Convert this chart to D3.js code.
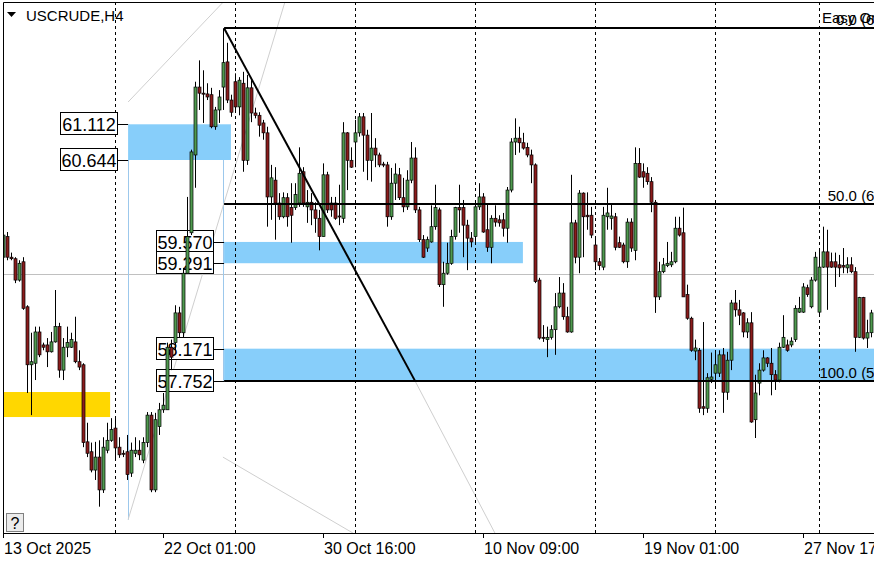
<!DOCTYPE html>
<html>
<head>
<meta charset="utf-8">
<script src="https://cdn.jsdelivr.net/npm/d3@7"></script>
<style>
  body { margin: 0; background: #fff; overflow: hidden; }
  svg { display: block; font-family: "Liberation Sans", Arial, sans-serif; }
</style>
</head>
<body>
<div id="chart"></div>
<script>
// USCRUDE H4 candles, one bar per 4 hours
const barOpen = [59.37,59.64,59.37,59.35,59.07,59.31,58.72,57.96,57.98,58.39,58.22,58.22,58.13,58.26,58.46,57.89,58.19,58.19,58.26,58.00,
  57.96,56.95,56.82,56.58,56.75,56.32,56.84,56.97,57.13,56.88,56.80,56.82,56.54,56.80,56.84,56.71,56.94,57.30,56.32,57.15,
  57.37,57.37,58.19,58.25,58.64,58.38,59.16,59.69,60.71,61.60,61.52,61.51,61.50,61.08,61.30,61.60,61.93,61.43,61.67,61.34,
  61.65,60.64,61.59,61.26,61.23,61.13,61.00,60.16,60.38,60.08,59.90,60.15,60.02,60.02,60.08,60.49,60.03,60.09,59.99,59.88,
  59.64,60.45,60.08,60.08,59.91,59.88,61.00,60.64,60.88,61.00,61.21,60.97,60.64,60.80,60.71,60.59,60.58,59.90,60.34,60.45,
  60.15,60.03,60.38,60.67,59.99,59.60,59.49,59.57,59.77,59.99,59.01,59.16,59.29,59.64,60.02,60.02,59.79,59.62,59.64,60.03,
  60.16,59.73,59.50,59.88,59.86,59.86,59.75,60.25,60.88,60.93,60.87,60.81,60.71,60.58,59.07,58.32,58.29,58.32,58.42,58.72,
  58.90,58.59,58.39,59.82,59.37,60.21,59.92,59.92,59.53,59.31,59.24,59.90,59.88,59.90,59.56,59.53,59.31,59.83,59.46,60.60,
  60.49,60.47,60.36,60.09,58.85,59.18,59.26,59.27,59.31,59.75,59.69,58.88,58.57,58.14,58.15,57.41,57.39,57.77,57.85,57.85,
  58.09,57.60,58.02,58.77,58.68,58.64,58.39,58.51,57.24,57.72,57.89,58.05,57.98,57.83,57.76,58.19,58.22,58.22,58.29,58.65,
  58.65,58.97,58.72,59.07,58.65,59.24,59.44,59.31,59.31,59.27,59.26,59.23,59.27,59.18,58.32,58.84,58.31,58.38];
const barHigh = [59.75,59.70,59.43,59.37,59.33,59.37,58.74,58.38,58.46,58.46,58.25,58.31,58.39,58.94,58.51,58.31,58.46,58.38,58.59,58.15,
  57.98,57.20,56.94,56.95,56.97,57.01,57.20,57.26,57.26,57.01,56.84,57.04,56.94,57.01,56.97,57.01,57.34,57.34,57.33,57.46,
  57.59,58.25,58.29,58.74,58.72,59.23,60.16,60.78,61.67,61.95,61.82,61.65,61.59,61.34,61.56,62.37,62.18,61.50,61.78,61.73,
  61.80,61.76,61.69,61.33,61.27,61.17,61.08,60.58,60.55,60.21,60.22,60.21,60.34,60.34,60.81,60.55,60.25,60.21,60.09,59.99,
  60.60,60.49,60.16,60.16,60.32,61.14,61.01,60.81,61.17,61.26,61.26,61.04,61.26,60.93,60.74,60.62,60.62,60.54,60.60,60.54,
  60.41,60.51,60.88,60.81,60.03,59.66,59.64,60.05,60.32,60.02,59.31,59.56,59.73,60.03,60.32,60.12,59.86,59.70,60.08,60.34,
  60.21,60.08,59.92,60.05,59.92,59.95,60.29,60.93,61.19,61.08,61.00,60.87,60.78,60.60,59.10,58.48,58.46,58.48,58.90,59.11,
  59.03,58.72,60.45,59.86,60.25,60.22,60.22,60.03,59.64,59.36,60.03,60.28,60.08,59.95,59.64,59.56,59.88,59.88,60.81,60.80,
  60.60,60.55,60.42,60.12,59.31,59.36,59.57,59.44,59.90,59.90,60.02,59.01,58.59,58.29,58.18,58.52,57.85,58.12,58.15,58.15,
  58.18,58.13,58.81,58.94,58.81,58.65,58.57,58.65,57.83,57.98,58.15,58.06,58.18,57.89,58.25,58.61,58.29,58.32,58.74,58.85,
  59.03,59.01,59.11,59.44,59.46,59.77,59.73,59.43,59.43,59.40,59.49,59.37,59.37,59.24,58.85,58.85,58.55,58.68];
const barLow = [59.20,59.33,59.33,59.03,59.05,58.68,57.59,57.30,57.76,58.06,58.15,57.93,58.12,58.25,57.79,57.76,58.06,58.18,57.98,57.89,
  56.88,56.75,56.55,56.45,56.10,56.28,56.80,56.95,56.71,56.74,56.75,56.45,56.49,56.75,56.71,56.67,56.88,56.29,56.29,57.04,
  57.33,57.37,57.89,58.15,58.32,58.32,59.16,59.66,60.28,61.30,61.13,61.43,61.06,61.04,61.13,61.30,61.39,61.21,61.30,61.23,
  60.49,60.58,61.14,61.19,60.95,60.91,59.77,59.86,59.60,59.86,59.88,59.77,59.56,59.99,60.03,60.03,59.82,59.79,59.69,59.46,
  59.64,59.95,59.90,59.86,59.79,59.82,60.25,60.54,60.55,60.95,60.49,60.38,60.36,60.55,60.55,60.55,59.77,59.86,60.12,60.12,
  59.96,59.99,60.34,59.95,59.57,59.36,59.44,59.56,59.73,58.98,58.72,59.14,59.27,59.60,59.69,59.37,59.20,59.50,59.57,59.99,
  59.69,59.44,59.29,59.77,59.77,59.64,59.56,60.22,60.71,60.74,60.78,60.68,60.34,59.03,58.29,58.26,58.06,58.29,58.09,58.70,
  58.55,58.38,58.38,59.29,59.16,59.37,59.73,59.62,59.20,59.20,59.20,59.73,59.73,59.46,59.49,59.29,59.23,59.44,59.33,60.41,
  60.28,60.32,59.96,58.64,58.81,59.16,59.24,59.24,59.29,59.64,58.85,58.55,58.13,58.02,57.33,57.30,57.33,57.72,57.67,57.80,
  57.33,57.50,57.89,58.59,58.48,58.32,58.31,57.20,57.00,57.56,57.87,57.93,57.56,57.63,57.73,58.18,58.13,58.19,58.26,58.64,
  58.64,58.85,58.70,59.05,58.61,59.23,58.68,59.23,58.98,59.11,59.16,59.16,59.16,58.13,58.31,58.29,58.18,58.32];
const barClose = [59.66,59.37,59.35,59.07,59.29,58.70,57.96,58.00,58.39,58.09,58.19,58.13,58.26,58.46,57.89,58.19,58.25,58.29,58.00,57.93,
  56.94,56.80,56.58,56.75,56.32,56.88,56.97,57.11,56.87,56.78,56.79,56.52,56.84,56.84,56.78,56.94,57.30,56.32,57.24,57.37,
  57.43,58.19,58.06,58.64,58.38,59.16,59.64,60.75,61.60,61.52,61.51,61.47,61.08,61.30,61.47,61.92,61.43,61.27,61.34,61.69,
  60.64,61.59,61.26,61.23,61.10,61.00,60.16,60.41,60.08,59.90,60.15,59.90,59.92,60.19,60.47,60.08,60.09,59.99,59.88,59.64,
  60.45,59.99,59.99,59.88,59.90,61.00,60.64,60.55,61.00,61.21,60.97,60.64,60.80,60.71,60.58,60.58,59.90,60.34,60.46,60.15,
  60.03,60.38,60.67,59.99,59.60,59.37,59.60,59.77,60.02,59.01,59.16,59.29,59.64,60.02,59.99,59.79,59.62,59.57,60.03,60.16,
  59.70,59.50,59.88,59.83,59.82,59.75,60.25,60.88,60.93,60.87,60.80,60.71,60.58,59.05,58.31,58.31,58.32,58.42,58.72,58.90,
  58.59,58.39,59.82,59.37,60.21,59.90,59.90,59.66,59.31,59.26,59.92,59.95,59.91,59.50,59.50,59.31,59.83,59.49,60.60,60.42,
  60.42,60.36,60.09,58.85,59.18,59.27,59.29,59.31,59.75,59.66,58.85,58.57,58.15,58.18,57.39,57.39,57.79,57.80,57.96,58.09,
  57.60,58.02,58.77,58.68,58.61,58.39,58.51,57.21,57.59,57.89,58.05,57.98,57.83,57.76,58.19,58.32,58.15,58.27,58.70,58.70,
  58.98,58.88,59.07,59.37,59.24,59.44,59.24,59.24,59.24,59.23,59.24,59.27,59.18,58.32,58.84,58.31,58.38,58.64];

// time axis (bar index -> label) and weekly separators
const tickIndex = [0, 40, 80, 120, 160, 200];
const tickLabels = ["13 Oct 2025", "22 Oct 01:00", "30 Oct 16:00", "10 Nov 09:00", "19 Nov 01:00", "27 Nov 17:00"];
const separators = [28, 58, 88, 118, 148, 178, 204];

// rectangles (price top / bottom, bar index from / to)
const zoneTop = [61.112, 59.570, 58.171];
const zoneBottom = [60.644, 59.291, 57.752];
const zoneFrom = [31.2, 55.2, 55.2];
const zoneTo = [56.9, 129.9, 240];
const goldZone = [57.603, 57.275, -2, 26.7];

// fibonacci
const fibHigh = 62.370, fibLow = 57.752;
const fibFrom = 55.2, fibTo = 102.9;
const fibLevels = [0, 50, 100];

const bidPrice = 59.146;

// thin grey helper lines [index1, price1, index2, price2]
const greyLines = [
  [31.2, 61.404, 55.0, 62.715],
  [31.2, 55.93, 70.55, 62.74],
  [54.9, 56.75, 87.4, 55.755],
  [102.9, 57.752, 122.9, 55.755]
];
// thin light blue verticals [index, price top, price bottom]
const blueVerticals = [[31.2, 60.644, 55.93], [54.9, 60.644, 57.752]];

const W = 874, H = 562;
const plotLeft = 3, plotTop = 2, plotBottom = 533;

const svg = d3.select("#chart").append("svg").attr("width", W).attr("height", H);

const n = barOpen.length;
const x = d3.scaleLinear().domain([0, n - 1]).range([3.3, 3.3 + 4 * (n - 1)]);
const y = d3.scaleLinear().domain([55.755, 62.715]).range([plotBottom, plotTop]);

svg.append("defs").append("clipPath").attr("id", "plot")
  .append("rect").attr("x", plotLeft).attr("y", plotTop).attr("width", W - plotLeft).attr("height", plotBottom - plotTop);

const g = svg.append("g").attr("clip-path", "url(#plot)");

// bid line
g.append("line")
  .attr("x1", plotLeft).attr("x2", W)
  .attr("y1", Math.round(y(bidPrice)) + 0.5).attr("y2", Math.round(y(bidPrice)) + 0.5)
  .attr("stroke", "#c0c0c0");

// blue zones
g.selectAll(".zone").data(zoneTop).enter().append("rect")
  .attr("class", "zone")
  .attr("x", (d, i) => x(zoneFrom[i]))
  .attr("y", d => y(d))
  .attr("width", (d, i) => x(zoneTo[i]) - x(zoneFrom[i]))
  .attr("height", (d, i) => y(zoneBottom[i]) - y(d))
  .attr("fill", "#87cefa");

g.append("rect")
  .attr("x", x(goldZone[2])).attr("y", y(goldZone[0]))
  .attr("width", x(goldZone[3]) - x(goldZone[2]))
  .attr("height", y(goldZone[1]) - y(goldZone[0]))
  .attr("fill", "#ffd700");

g.selectAll(".bv").data(blueVerticals).enter().append("line")
  .attr("x1", d => Math.round(x(d[0])) + 0.5).attr("x2", d => Math.round(x(d[0])) + 0.5)
  .attr("y1", d => y(d[1])).attr("y2", d => y(d[2]))
  .attr("stroke", "#9cc8ec");

g.selectAll(".grey").data(greyLines).enter().append("line")
  .attr("x1", d => x(d[0])).attr("y1", d => y(d[1]))
  .attr("x2", d => x(d[2])).attr("y2", d => y(d[3]))
  .attr("stroke", "#cfcfcf");

// weekly separators
g.selectAll(".sep").data(separators).enter().append("line")
  .attr("x1", d => Math.round(x(d)) + 0.5).attr("x2", d => Math.round(x(d)) + 0.5)
  .attr("y1", plotTop).attr("y2", plotBottom)
  .attr("stroke", "#000").attr("stroke-dasharray", "3,3");

// price label boxes at rectangle edges
const boxes = [];
zoneTop.forEach((d, i) => {
  boxes.push({ price: d, from: zoneFrom[i] });
  boxes.push({ price: zoneBottom[i], from: zoneFrom[i] });
});
const lb = g.selectAll(".lbl").data(boxes).enter().append("g");
lb.append("line")
  .attr("x1", d => x(d.from) - 11).attr("x2", d => x(d.from))
  .attr("y1", d => Math.round(y(d.price)) + 0.5).attr("y2", d => Math.round(y(d.price)) + 0.5)
  .attr("stroke", "#000");
lb.append("rect")
  .attr("x", d => Math.round(x(d.from)) - 67.5)
  .attr("y", d => Math.round(y(d.price)) - 11.5)
  .attr("width", 57).attr("height", 22)
  .attr("fill", "#fff").attr("stroke", "#000");
lb.append("text")
  .attr("x", d => Math.round(x(d.from)) - 39)
  .attr("y", d => Math.round(y(d.price)) + 6.5)
  .attr("text-anchor", "middle").attr("font-size", "18px").attr("fill", "#000")
  .text(d => d.price.toFixed(3));

// candles
const bars = g.selectAll(".bar").data(d3.range(n)).enter().append("g");
bars.append("line")
  .attr("x1", i => Math.round(x(i)) + 0.5).attr("x2", i => Math.round(x(i)) + 0.5)
  .attr("y1", i => y(barHigh[i])).attr("y2", i => y(barLow[i]))
  .attr("stroke", "#000");
bars.append("rect")
  .attr("x", i => Math.round(x(i)) - 1)
  .attr("y", i => y(Math.max(barOpen[i], barClose[i])))
  .attr("width", 3)
  .attr("height", i => Math.max(1, Math.abs(y(barOpen[i]) - y(barClose[i]))))
  .attr("fill", i => barClose[i] >= barOpen[i] ? "#4f9a4f" : "#8b1c1c")
  .attr("stroke", "#000").attr("stroke-width", 0.7);

// fibonacci
g.append("line")
  .attr("x1", x(fibFrom)).attr("y1", y(fibHigh))
  .attr("x2", x(fibTo)).attr("y2", y(fibLow))
  .attr("stroke", "#000").attr("stroke-width", 2);
const fibPrice = l => fibHigh - (fibHigh - fibLow) * l / 100;
g.selectAll(".fib").data(fibLevels).enter().append("line")
  .attr("x1", x(fibFrom)).attr("x2", W)
  .attr("y1", d => Math.round(y(fibPrice(d)))).attr("y2", d => Math.round(y(fibPrice(d))))
  .attr("stroke", "#000").attr("stroke-width", 2);
g.append("text")
  .attr("x", 822).attr("y", y(fibPrice(0)) - 5)
  .attr("font-size", "15px").attr("fill", "#000").text("Easy Order");
g.selectAll(".fibt").data(fibLevels).enter().append("text")
  .attr("x", 917).attr("y", d => y(fibPrice(d)) - 3)
  .attr("text-anchor", "end").attr("font-size", "15px").attr("fill", "#000")
  .text(d => d.toFixed(1) + " (" + fibPrice(d).toFixed(3) + ")");

// frame and time axis
svg.append("path")
  .attr("d", `M${plotLeft + 0.5},${plotBottom + 0.5} V${plotTop + 0.5} H${W}`)
  .attr("fill", "none").attr("stroke", "#000");
svg.append("line").attr("x1", plotLeft).attr("x2", W)
  .attr("y1", plotBottom + 0.5).attr("y2", plotBottom + 0.5).attr("stroke", "#000");

const ax = svg.selectAll(".tick").data(tickIndex).enter().append("g");
ax.append("line")
  .attr("x1", d => Math.round(x(d)) + 0.5).attr("x2", d => Math.round(x(d)) + 0.5)
  .attr("y1", plotBottom).attr("y2", plotBottom + 5).attr("stroke", "#000");
ax.append("text")
  .attr("x", d => Math.round(x(d)) + 1).attr("y", 554)
  .attr("font-size", "16px").attr("fill", "#000")
  .text((d, i) => tickLabels[i]);

// title
svg.append("path").attr("d", "M7,12 L16,12 L11.5,17 Z").attr("fill", "#000");
svg.append("text").attr("x", 26).attr("y", 21)
  .attr("font-size", "15px").attr("fill", "#000").text("USCRUDE,H4");

// help button
svg.append("rect").attr("x", 6.5).attr("y", 513.5).attr("width", 17).attr("height", 18)
  .attr("fill", "#ececec").attr("stroke", "#808080");
svg.append("text").attr("x", 15).attr("y", 529).attr("text-anchor", "middle")
  .attr("font-size", "16px").attr("fill", "#000").text("?");
</script>
</body>
</html>
